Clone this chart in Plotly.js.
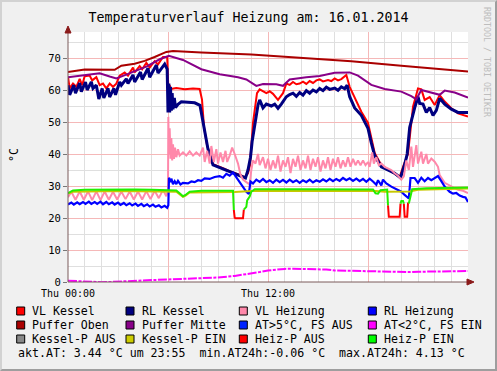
<!DOCTYPE html>
<html><head><meta charset="utf-8">
<script src="https://cdn.plot.ly/plotly-3.0.1.min.js"></script>
<style>
html,body{margin:0;padding:0;background:#F0F0F0;}
#wrap{position:relative;width:497px;height:371px;overflow:hidden;}
#chart{width:497px;height:371px;}
#frame{position:absolute;left:0;top:0;width:497px;height:371px;box-sizing:border-box;border-top:2px solid #D2D2D2;border-left:2px solid #D2D2D2;border-right:2px solid #9E9E9E;border-bottom:2px solid #9E9E9E;pointer-events:none;}
</style></head><body>
<div id="wrap"><div id="chart"></div><div id="frame"></div></div>
<script>
// ---- data (hours since Thu 00:00, °C) ----
const titleText = "Temperaturverlauf Heizung am: 16.01.2014";
const xTickVals = [0, 6, 12, 18, 24];
const xTickText = ["Thu 00:00", "", "Thu 12:00", "", ""];
const legendNames = ["VL Kessel","RL Kessel","VL Heizung","RL Heizung","Puffer Oben","Puffer Mitte","AT>5°C, FS AUS","AT<2°C, FS EIN","Kessel-P AUS","Kessel-P EIN","Heiz-P AUS","Heiz-P EIN"];
const legendColors = ["#FF0000","#000080","#FF88AA","#0000FF","#AA0000","#880088","#0022FF","#FF00FF","#888888","#CCCC00","#FF0000","#00FF00"];
const footerText = "akt.AT: 3.44 °C um 23:55  min.AT24h:-0.06 °C  max.AT24h: 4.13 °C";

const vlKessel = [[0,64.2],[0.1,60.5],[0.3,62],[0.5,61],[0.7,63.5],[0.85,61.5],[1.0,64.3],[1.3,64.5],[1.45,63],[1.7,64],[1.9,61.5],[2.1,62],[2.3,60.5],[2.5,62],[2.7,61],[2.9,62],[3.1,64.5],[3.4,65.5],[3.6,64.5],[3.9,67],[4.0,65.5],[4.3,67.5],[4.45,66.5],[4.7,68.5],[4.9,67],[5.2,69],[5.4,68],[5.7,70.3],[5.95,70.3],[6.02,61],[6.1,61.5],[6.15,60.3],[6.5,60.6],[7.0,60.2],[7.5,60.5],[7.9,60.3],[8.04,57],[8.16,48.5],[8.34,42.8],[8.7,36.8],[9.3,35.6],[9.9,34.2],[10.4,33.3],[10.6,32.7],[10.8,34],[10.92,36.6],[11.1,49.7],[11.34,59],[11.5,60.2],[11.7,59.5],[11.9,59],[12.1,59.6],[12.3,58.8],[12.6,56.9],[12.9,59],[13.1,62],[13.3,61.6],[13.5,62.5],[13.7,61.8],[13.9,62],[14.1,62.6],[14.3,61.9],[14.5,62.8],[14.7,62.2],[14.9,63],[15.1,63.3],[15.3,62.7],[15.6,63.1],[15.8,62.8],[16.0,63.6],[16.2,63],[16.4,63.4],[16.7,64.7],[16.9,61],[17.2,57.5],[17.6,53.2],[18.0,49.7],[18.2,44.4],[18.4,40.3],[18.8,36.5],[19.6,34],[19.9,32.8],[20.15,36.7],[20.4,40],[20.7,54.8],[21.0,60.5],[21.2,60.2],[21.4,56.9],[21.7,57.8],[22.0,55.3],[22.3,58.4],[22.6,56.4],[23.0,54.3],[23.4,52.7],[24,51.7]];

const rlKessel = [[0,61.5],[0.1,58.5],[0.35,61.5],[0.45,59],[0.7,62.2],[0.8,59.5],[1.05,62.5],[1.15,60],[1.4,62.5],[1.5,60.5],[1.7,61.5],[1.85,57.2],[2.05,60.5],[2.15,57.5],[2.4,60.5],[2.5,57.8],[2.75,60.5],[2.85,58.5],[3.1,62.5],[3.2,61.5],[3.5,63.5],[3.6,62],[3.9,64.7],[4.0,62.5],[4.35,65.6],[4.45,63.3],[4.8,66.8],[4.9,64],[5.3,67.8],[5.4,65.3],[5.8,68.1],[5.95,66.5],[6.0,53],[6.05,62],[6.1,53],[6.15,61],[6.2,53.5],[6.25,59],[6.3,54],[6.38,57.5],[6.45,54.5],[6.6,55.5],[6.8,56.3],[7.2,56.2],[7.6,56.0],[7.92,55.2],[8.22,46.4],[8.4,41.5],[8.7,36.6],[9.3,35.4],[9.9,34],[10.4,33.2],[10.65,32.5],[10.8,35],[10.95,39],[11.05,44],[11.2,48.5],[11.4,55.3],[11.5,56.9],[11.7,54.4],[11.9,55.6],[12.2,55],[12.4,55.6],[12.6,54.3],[12.8,55.6],[13.1,57.9],[13.3,58.6],[13.5,59],[13.7,58],[13.9,59.2],[14.1,58.4],[14.3,59.8],[14.5,59],[14.7,60],[14.9,59.4],[15.1,60.5],[15.3,59.8],[15.5,60.9],[15.7,60.2],[16.0,60.6],[16.2,59.9],[16.4,61],[16.6,60.4],[16.75,61.5],[16.9,57.9],[17.2,54.4],[17.6,52.1],[18.0,48],[18.2,43.5],[18.4,39.5],[18.8,36],[19.6,34],[19.95,32.6],[20.2,36.7],[20.35,40],[20.5,48.3],[20.8,54.4],[21.0,57.9],[21.1,55.8],[21.3,55.6],[21.5,53],[21.7,54.5],[21.9,52.1],[22.1,53.6],[22.3,57.4],[22.6,55.6],[23.0,54],[23.4,53],[24,53]];

const vlHeizung = [[0,26.5],[0.2,28.2],[0.45,25.7],[0.7,28.3],[0.95,25.7],[1.2,28.3],[1.45,25.6],[1.7,28.3],[1.95,25.6],[2.2,28.3],[2.45,25.7],[2.7,28.2],[2.95,25.8],[3.2,28.3],[3.45,25.9],[3.7,28.3],[3.95,25.8],[4.2,28.3],[4.45,25.8],[4.7,28.4],[4.95,25.9],[5.2,28.5],[5.45,26.2],[5.7,28.8],[5.9,26.8],[6.0,28.5],[6.02,51.6],[6.06,40],[6.1,48],[6.15,38.5],[6.2,45],[6.25,38],[6.3,43],[6.36,38.5],[6.42,42],[6.5,39],[6.6,41.5],[6.7,39.5],[6.9,40.5],[7.1,39.5],[7.3,40.8],[7.5,39.5],[7.7,40.5],[7.9,39.5],[8.1,42],[8.2,37.5],[8.35,41],[8.5,37],[8.6,42.5],[8.75,37.5],[8.9,41.5],[9.0,37],[9.15,40.5],[9.3,37.5],[9.45,41],[9.55,37.5],[9.7,39.5],[9.85,42],[10.0,40],[10.2,37],[10.35,33.5],[10.5,32],[10.7,31.2],[10.9,30.5],[11.0,35],[11.1,38],[11.25,37],[11.4,40],[11.5,36.5],[11.7,39],[11.85,35.5],[12.0,38.5],[12.15,35],[12.3,38],[12.45,35.5],[12.6,39.5],[12.75,34.5],[12.9,38],[13.05,36],[13.2,39],[13.35,34],[13.5,38.5],[13.65,36],[13.8,39.5],[13.95,35],[14.1,38],[14.25,35.5],[14.4,39.5],[14.55,35],[14.7,38.5],[14.85,36],[15.0,39],[15.15,34.5],[15.3,38],[15.45,35.5],[15.6,39],[15.75,35],[15.9,38.5],[16.05,36],[16.2,39],[16.35,35.5],[16.5,38],[16.65,36],[16.8,39],[16.95,36],[17.1,38.5],[17.25,36.5],[17.4,38],[17.55,36.5],[17.7,38],[17.85,36.5],[18.0,37.5],[18.1,36],[18.25,40.5],[18.35,37],[18.5,39],[18.65,36.5],[18.8,37],[19.0,36],[19.2,35.5],[19.4,35],[19.6,34],[19.8,33.2],[20.0,32],[20.15,33],[20.3,38],[20.45,35],[20.6,42.3],[20.7,36],[20.9,42.8],[21.0,37],[21.2,40.7],[21.3,37],[21.5,40],[21.6,37],[21.8,38.6],[22.0,37.6],[22.2,36],[22.3,33.4],[22.6,31],[23.0,29.8],[23.4,28.8],[23.7,28.5],[24,27.8]];

const rlHeizung = [[0,24.2],[0.2,24.8],[0.35,24.2],[0.55,24.9],[0.7,24.3],[0.9,25],[1.05,24.4],[1.25,25.1],[1.4,24.4],[1.6,25],[1.75,24.4],[1.95,25.1],[2.1,24.3],[2.3,25],[2.45,24.3],[2.65,24.9],[2.8,24.2],[3.0,24.8],[3.15,24.1],[3.35,24.7],[3.5,24],[3.7,24.6],[3.85,23.9],[4.05,24.5],[4.2,23.8],[4.4,24.4],[4.55,23.7],[4.75,24.3],[4.9,23.6],[5.1,24.2],[5.25,23.5],[5.45,24],[5.6,23.3],[5.8,23.8],[5.95,23.2],[6.02,24],[6.06,32.6],[6.15,31.2],[6.2,32.3],[6.3,30.6],[6.4,31.5],[6.5,30.6],[6.6,31.6],[6.75,30.5],[6.9,31],[7.2,30.8],[7.4,31.4],[7.6,31.2],[7.8,31.8],[8.0,31.6],[8.2,32.4],[8.5,32.2],[8.8,32.8],[9.1,33.1],[9.3,32.6],[9.5,33.8],[9.7,33.2],[9.9,34.2],[10.0,33.5],[10.2,32],[10.5,29.8],[10.7,28.2],[10.85,27.5],[10.95,31.4],[11.1,30.8],[11.3,32],[11.5,31.3],[11.7,32.2],[11.9,31.2],[12.1,31.8],[12.3,31],[12.5,32],[12.7,31.2],[12.9,31.9],[13.1,31.1],[13.3,32],[13.5,31.2],[13.7,31.8],[13.9,31],[14.1,31.8],[14.3,31.2],[14.5,32],[14.7,31.1],[14.9,31.8],[15.1,31.3],[15.3,32.1],[15.5,31.4],[15.7,32.2],[15.9,31.5],[16.1,32.2],[16.3,31.6],[16.5,32.5],[16.7,31.8],[16.9,32.4],[17.1,31.6],[17.3,32.3],[17.5,31.5],[17.7,32.2],[17.9,31.3],[18.1,32.3],[18.3,31.4],[18.5,30.4],[18.6,31.8],[18.8,30.2],[18.9,32],[19.1,30.8],[19.4,29.8],[19.7,29],[20.0,28.2],[20.2,27.2],[20.45,26.1],[20.55,32.5],[20.8,32.5],[21.0,31],[21.2,32.6],[21.4,31.5],[21.6,32.5],[21.8,31.8],[22.0,32.5],[22.2,33.1],[22.4,31.5],[22.6,29.8],[22.9,28.2],[23.1,27.6],[23.3,27.8],[23.5,27],[23.7,26.6],[23.85,26.4],[24,25]];

const pufferOben = [[0,65.6],[1,66.4],[2.8,66.3],[3.2,67.6],[4,68.2],[4.6,69.1],[5.2,70.3],[5.9,71.9],[6.3,72.2],[8,71.7],[11,71.1],[14,70.0],[17,69.0],[20,67.6],[24,65.8]];

const pufferMitte = [[0,64.0],[1.4,64.9],[1.9,65.2],[2.5,64.2],[2.9,63.6],[3.3,64.4],[3.9,65.7],[4.7,67.3],[5.5,69.6],[6.05,70.7],[6.9,69.4],[8,66.5],[9.1,64.9],[10.2,64.0],[10.7,63.3],[11.3,61.3],[11.7,61.9],[12.5,61.8],[12.9,61.3],[13.3,63.3],[14.3,64.0],[15.1,64.4],[16,65.4],[16.9,65.5],[17.4,64.5],[18.2,61.6],[19,60.3],[20,59.5],[20.6,58.1],[20.9,57.1],[21.2,60.0],[22,59.0],[22.3,58.5],[22.6,59.8],[23.2,59.2],[24,57.6]];

const aussenTemp = [[0,0.4],[0.5,0.3],[1,0.1],[1.5,-0.05],[2,-0.06],[2.5,0],[3,0.15],[4,0.35],[5,0.6],[6,0.8],[7,1.0],[8,1.15],[9,1.4],[10,1.9],[10.9,2.5],[11.5,3.1],[12,3.6],[12.5,3.95],[13,4.1],[13.5,4.13],[14,4.1],[15,4.05],[15.5,3.9],[16,3.6],[17,3.5],[18,3.4],[19,3.2],[19.9,3.0],[20.5,3.1],[21,3.2],[22,3.3],[23,3.4],[24,3.44]];

const kesselPEin = [[0,27.6],[0.3,28.2],[3,28.4],[6,28.3],[6.5,28.2],[6.75,27.2],[6.9,26.6],[7.05,27],[7.3,28],[10,28.1],[11,28.4],[18.3,28.5],[19,28.2],[20.5,28.3],[21,28.8],[24,29.2]];

const heizPEin = [[0,27.8],[0.3,28.6],[1,28.8],[2,28.9],[4,28.9],[5,28.8],[6,28.7],[6.5,28.6],[6.75,27.5],[6.9,26.8],[7.05,27.2],[7.3,28.2],[8,28.5],[9.9,28.5],[9.95,22.5],[9.97,null],[10.55,22.6],[10.7,23.5],[10.75,25.5],[10.9,26.7],[11.0,28.2],[11.2,29],[14,29],[18.3,28.9],[18.45,27.7],[18.6,27.6],[18.75,28.7],[19.15,28.9],[19.2,24],[19.5,null],[19.95,24.5],[20.0,25.3],[20.1,25.3],[20.15,24.5],[20.3,null],[20.45,24.5],[20.55,27],[20.65,29],[21.5,29.3],[23,29.3],[24,29.5]];

const heizPAus = [[9.95,22.5],[10.0,20.1],[10.05,19.9],[10.5,19.9],[10.55,22.6],[11,null],[19.2,24],[19.25,20.4],[19.9,20.4],[19.95,24.5],[20.05,null],[20.15,24.5],[20.2,20.4],[20.35,20.4],[20.4,24.5],[20.45,24.5]];

// ---- geometry helpers (pixel -> paper) ----
const L = 68, T = 32, W = 400, H = 250;
const px = x => (x - L) / W;
const py = y => (T + H - y) / H;

const F = "DejaVu Sans Mono, monospace";
function tr(pts, color, width, dash) {
  return {x: pts.map(p => p[0]), y: pts.map(p => p[1]), type: "scatter", mode: "lines",
    line: {color: color, width: width, dash: dash || "solid"}, hoverinfo: "skip",
    showlegend: false, connectgaps: false};
}
const data = [
  tr(vlKessel, legendColors[0], 2),
  tr(rlKessel, legendColors[1], 3),
  tr(vlHeizung, legendColors[2], 2),
  tr(rlHeizung, legendColors[3], 2.2),
  tr(pufferOben, legendColors[4], 2),
  tr(pufferMitte, legendColors[5], 2),
  tr(aussenTemp, legendColors[7], 2, "9px,1.5px,3px,1.5px"),
  tr(kesselPEin, "#C8C800", 2),
  tr(heizPAus, legendColors[10], 2),
  tr(heizPEin, "#22EE00", 2)
];

const shapes = [];
const annotations = [];
// axis lines with arrows
const axC = "#7a5a5a", arC = "#8B1A1A";
shapes.push({type: "line", xref: "paper", yref: "paper", x0: 0, y0: 0, x1: px(471), y1: 0, line: {color: axC, width: 1}});
shapes.push({type: "line", xref: "paper", yref: "paper", x0: 0, y0: 0, x1: 0, y1: py(29), line: {color: axC, width: 1}});
shapes.push({type: "path", xref: "paper", yref: "paper",
  path: `M ${px(65)} ${py(33)} L ${px(68)} ${py(26)} L ${px(71)} ${py(33)} Z`, fillcolor: arC, line: {color: arC, width: 1}});
shapes.push({type: "path", xref: "paper", yref: "paper",
  path: `M ${px(467)} ${py(279)} L ${px(474)} ${py(282)} L ${px(467)} ${py(285)} Z`, fillcolor: arC, line: {color: arC, width: 1}});

// legend
const colX = [16.7, 126, 239.3, 368.3];
const rowY = [311, 325, 339];
legendNames.forEach((name, i) => {
  const c = i % 4, r = Math.floor(i / 4);
  const x0 = colX[c], yc = rowY[r];
  shapes.push({type: "rect", xref: "paper", yref: "paper",
    x0: px(x0), x1: px(x0 + 8), y0: py(yc + 4), y1: py(yc - 4),
    fillcolor: legendColors[i], line: {color: "#000000", width: 1}});
  annotations.push({xref: "paper", yref: "paper", x: px(x0 + 13.5), y: py(yc), xanchor: "left", yanchor: "middle",
    text: name, showarrow: false, font: {family: F, size: 11.6, color: "#000"}});
});
annotations.push({xref: "paper", yref: "paper", x: px(16.2), y: py(353), xanchor: "left", yanchor: "middle",
  text: footerText, showarrow: false, font: {family: F, size: 11.6, color: "#000"}});
// y axis title
annotations.push({xref: "paper", yref: "paper", x: px(14), y: py(155), xanchor: "center", yanchor: "middle",
  text: "°C", textangle: -90, showarrow: false, font: {family: F, size: 11.6, color: "#000"}});
// watermark
annotations.push({xref: "paper", yref: "paper", x: px(487), y: py(62), xanchor: "center", yanchor: "middle",
  text: "RRDTOOL / TOBI OETIKER", textangle: 90, showarrow: false, font: {family: F, size: 8.3, color: "#BDBDBD"}});

const layout = {
  width: 497, height: 371,
  margin: {l: L, r: 497 - L - W, t: T, b: 371 - T - H, pad: 0},
  paper_bgcolor: "#F0F0F0", plot_bgcolor: "#FFFFFF",
  title: {text: titleText, font: {family: F, size: 13.3, color: "#000"}, x: 0.5, xref: "container", y: 1 - 17 / 371, yref: "container", xanchor: "center", yanchor: "middle"},
  showlegend: false,
  xaxis: {range: [0, 24], tickmode: "array", tickvals: xTickVals, ticktext: xTickText,
    showgrid: true, gridcolor: "#F5B8B8", gridwidth: 1, zeroline: false, showline: false,
    ticks: "", tickfont: {family: F, size: 10, color: "#000"}, ticklabelstandoff: 4,
    minor: {tickmode: "linear", tick0: 0, dtick: 1, showgrid: true, gridcolor: "#DFDFDF", gridwidth: 1, ticks: ""},
    fixedrange: true},
  yaxis: {range: [0, 78.125], tickmode: "linear", tick0: 0, dtick: 10,
    showgrid: true, gridcolor: "#F5B8B8", gridwidth: 1, zeroline: false, showline: false,
    ticks: "outside", ticklen: 4, tickcolor: "#777", tickwidth: 1,
    tickfont: {family: F, size: 10.5, color: "#000"},
    minor: {tickmode: "linear", tick0: 0, dtick: 5, showgrid: true, gridcolor: "#DFDFDF", gridwidth: 1, ticks: ""},
    fixedrange: true},
  shapes: shapes,
  annotations: annotations
};
Plotly.newPlot("chart", data, layout, {staticPlot: true, displayModeBar: false});
</script>
</body></html>
